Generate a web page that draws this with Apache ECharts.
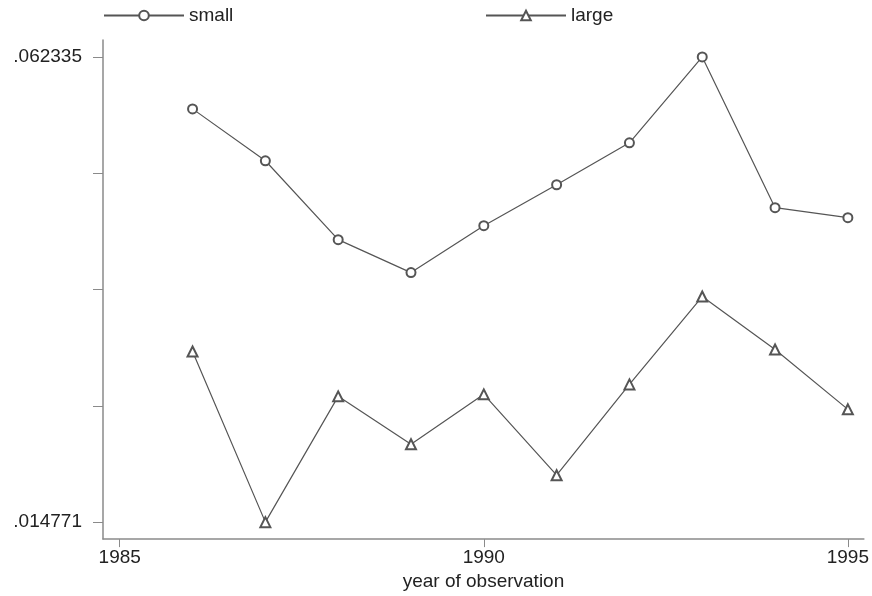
<!DOCTYPE html>
<html>
<head>
<meta charset="utf-8">
<script src="https://cdn.jsdelivr.net/npm/echarts@6/dist/echarts.min.js"></script>
<style>
html,body{margin:0;padding:0;background:#fff;overflow:hidden;}
#chart{width:872px;height:596px;}
</style>
</head>
<body>
<div id="chart"></div>
<script>
var years = [1986, 1987, 1988, 1989, 1990, 1991, 1992, 1993, 1994, 1995];
var small = [0.057027, 0.051720, 0.043656, 0.040288, 0.045085, 0.049270, 0.053557, 0.062335, 0.046922, 0.045902];
var large = [0.032224, 0.014771, 0.027631, 0.022732, 0.027835, 0.019568, 0.028856, 0.037838, 0.032428, 0.026304];
var yTicks = [0.014771, 0.026662, 0.038553, 0.050444, 0.062335];
var yLabels = [0.014771, 0.062335];
var xTicks = [1985, 1990, 1995];

function pairs(vals) { return years.map(function (y, i) { return [y, vals[i]]; }); }

var font = 'Liberation Sans, Arial, sans-serif';
var lineColor = '#555';
var axisColor = '#8a8a8a';
var textColor = '#222';

var chart = echarts.init(document.getElementById('chart'));
chart.setOption({
  animation: false,
  backgroundColor: '#fff',
  grid: { left: 103, right: 4, top: 40, bottom: 56, containLabel: false },
  legend: [
    { data: ['small'], left: 103, top: 6, padding: 0, itemWidth: 80, itemHeight: 12, itemGap: 6,
      textStyle: { fontFamily: font, fontSize: 19, color: textColor } },
    { data: ['large'], left: 485, top: 6, padding: 0, itemWidth: 80, itemHeight: 12, itemGap: 6,
      textStyle: { fontFamily: font, fontSize: 19, color: textColor } }
  ],
  xAxis: {
    type: 'value',
    min: 1984.77, max: 1995.22,
    name: 'year of observation', nameLocation: 'middle', nameGap: 31,
    nameTextStyle: { fontFamily: font, fontSize: 19, color: textColor },
    axisLine: { show: true, lineStyle: { color: axisColor, width: 1.5 } },
    axisTick: { show: true, length: 8, customValues: xTicks, lineStyle: { color: axisColor } },
    axisLabel: { show: true, customValues: xTicks, margin: 9, fontFamily: font, fontSize: 19, color: textColor,
      formatter: function (v) { return String(v); } },
    splitLine: { show: false }
  },
  yAxis: {
    type: 'value',
    min: 0.013036, max: 0.064070,
    axisLine: { show: true, lineStyle: { color: axisColor, width: 1.5 } },
    axisTick: { show: true, length: 10, customValues: yTicks, lineStyle: { color: axisColor } },
    axisLabel: { show: true, customValues: yLabels, margin: 21, fontFamily: font, fontSize: 19, color: textColor,
      formatter: function (v) { return v.toFixed(6).replace(/^0/, ''); } },
    splitLine: { show: false }
  },
  series: [
    { name: 'small', type: 'line', data: pairs(small), symbol: 'emptyCircle', symbolSize: 9,
      lineStyle: { color: lineColor, width: 1.2 }, itemStyle: { color: lineColor, borderWidth: 1 } },
    { name: 'large', type: 'line', data: pairs(large), symbol: 'emptyTriangle', symbolSize: 10,
      lineStyle: { color: lineColor, width: 1.2 }, itemStyle: { color: lineColor, borderWidth: 1 } }
  ]
});
</script>
</body>
</html>
